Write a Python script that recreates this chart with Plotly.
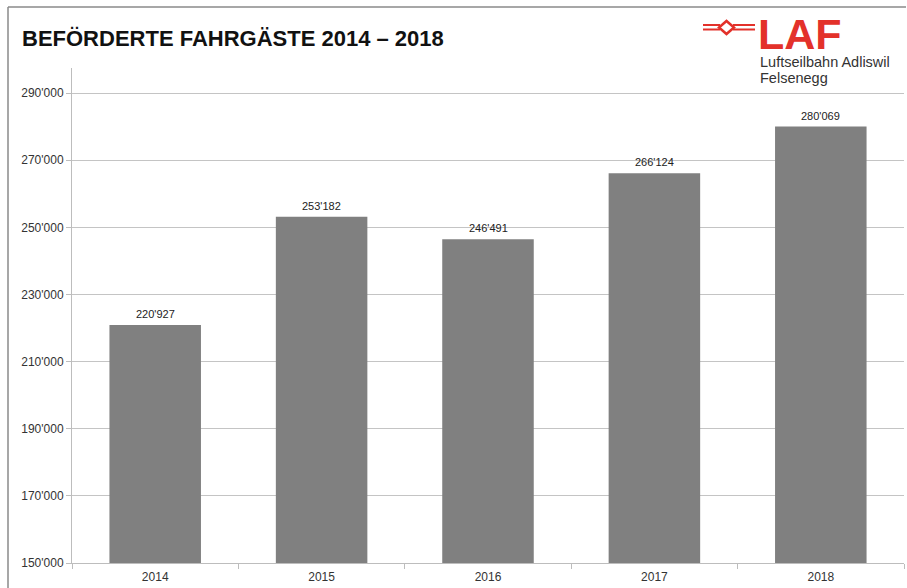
import plotly.graph_objects as go

years = ["2014", "2015", "2016", "2017", "2018"]
passengers = [220927, 253182, 246491, 266124, 280069]
y_ticks = [150000, 170000, 190000, 210000, 230000, 250000, 270000, 290000]

W, H = 907, 588
L, R, T, B = 72, 3, 68, 25
PW, PH = W - L - R, H - T - B

def px(x):
    return (x - L) / PW

def py(y):
    return (H - B - y) / PH

RED = "#e3312a"

def fmt(v):
    return f"{v:,}".replace(",", "'")

fig = go.Figure()
fig.add_trace(go.Bar(
    x=years, y=passengers, marker=dict(color="#808080", line=dict(width=0)),
    width=0.55, hoverinfo="skip",
))

annotations = []
for i, v in enumerate(passengers):
    annotations.append(dict(x=i, y=v, xref="x", yref="y", text=fmt(v), showarrow=False,
                            yanchor="bottom", yshift=3,
                            font=dict(family="Liberation Sans, Arial", size=11, color="#222")))

# logo texts
annotations.append(dict(x=px(757), y=py(34), xref="paper", yref="paper", text="<b>LAF</b>",
                        showarrow=False, xanchor="left", yanchor="middle", borderpad=0,
                        font=dict(family="Liberation Sans, Arial", size=43, color=RED)))
annotations.append(dict(x=px(759), y=py(62), xref="paper", yref="paper",
                        text="Luftseilbahn Adliswil", align="left", borderpad=0,
                        showarrow=False, xanchor="left", yanchor="middle",
                        font=dict(family="Liberation Sans, Arial", size=14.5, color="#333")))
annotations.append(dict(x=px(759), y=py(78), xref="paper", yref="paper",
                        text="Felsenegg", align="left", borderpad=0,
                        showarrow=False, xanchor="left", yanchor="middle",
                        font=dict(family="Liberation Sans, Arial", size=14.5, color="#333")))

shapes = []
# frame lines (top and left)
shapes.append(dict(type="line", xref="paper", yref="paper", x0=px(8), x1=px(906), y0=py(7), y1=py(7),
                   line=dict(color="#8a8a8a", width=1.5)))
shapes.append(dict(type="line", xref="paper", yref="paper", x0=px(8), x1=px(8), y0=py(7), y1=py(590),
                   line=dict(color="#8a8a8a", width=1.5)))
# logo symbol
for yy in (25, 29.5):
    shapes.append(dict(type="line", xref="paper", yref="paper", x0=px(703), x1=px(720), y0=py(yy), y1=py(yy),
                       line=dict(color=RED, width=2)))
    shapes.append(dict(type="line", xref="paper", yref="paper", x0=px(733), x1=px(755), y0=py(yy), y1=py(yy),
                       line=dict(color=RED, width=2)))
cx, cy, hw, hh = 726.5, 27.5, 7.5, 6.5
path = (f"M {px(cx-hw)} {py(cy)} L {px(cx)} {py(cy-hh)} L {px(cx+hw)} {py(cy)} "
        f"L {px(cx)} {py(cy+hh)} Z")
shapes.append(dict(type="path", xref="paper", yref="paper", path=path,
                   line=dict(color=RED, width=2.5), fillcolor="white"))

fig.update_layout(
    width=W, height=H,
    margin=dict(l=L, r=R, t=T, b=B, pad=0, autoexpand=False),
    paper_bgcolor="white", plot_bgcolor="white",
    separators=".'",
    showlegend=False,
    title=dict(text="<b>BEFÖRDERTE FAHRGÄSTE 2014 – 2018</b>", x=22 / W, y=1 - 38 / H,
               xanchor="left", yanchor="middle", xref="container", yref="container",
               font=dict(family="Liberation Sans, Arial", size=22, color="#111")),
    annotations=annotations,
    shapes=shapes,
    xaxis=dict(type="category", range=[-0.5, 4.5], showgrid=False, showline=True,
               linecolor="#bdbdbd", linewidth=1, automargin=False,
               ticks="outside", tickson="boundaries", ticklen=5, tickcolor="#bdbdbd",
               ticklabelstandoff=3,
               tickfont=dict(family="Liberation Sans, Arial", size=12, color="#333"),
               zeroline=False, fixedrange=True),
    yaxis=dict(range=[150000, 297500], tickvals=y_ticks, tickformat=",d", automargin=False,
               showgrid=True, gridcolor="#c4c4c4", gridwidth=1,
               showline=True, linecolor="#bdbdbd", linewidth=1,
               ticks="outside", ticklen=5, tickcolor="#bdbdbd",
               tickfont=dict(family="Liberation Sans, Arial", size=12, color="#333"),
               zeroline=False, fixedrange=True),
    bargap=0.45,
)

fig.write_html("out.html", config={"displayModeBar": False},
               post_script="document.body.style.margin='0';document.body.style.overflow='hidden';")
